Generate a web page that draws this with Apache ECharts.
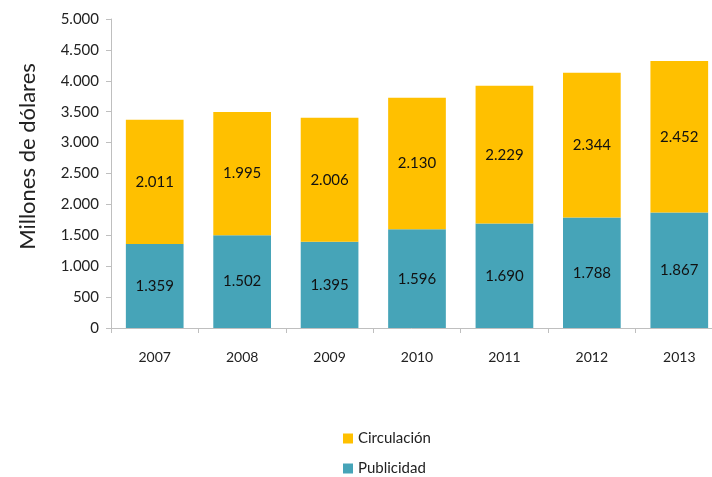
<!DOCTYPE html>
<html><head><meta charset="utf-8">
<script src="https://cdn.jsdelivr.net/npm/echarts@6/dist/echarts.min.js"></script>
<style>html,body{margin:0;padding:0;background:#fff}#c{width:712px;height:477px}</style>
</head><body><div id="c"></div>
<script>
var years = ['2007','2008','2009','2010','2011','2012','2013'];
var publicidad = [1359,1502,1395,1596,1690,1788,1867];
var circulacion = [2011,1995,2006,2130,2229,2344,2452];
var yTicks = {min:0, max:5000, interval:500};
var fmt = function(v){ return String(v).replace(/\B(?=(\d{3})+(?!\d))/g,'.'); };
var FONT = 'Lato';
var legendBase = {itemWidth:10, itemHeight:10, icon:'rect', left:338,
  textStyle:{fontFamily:FONT, fontSize:15, color:'#222'}};
var chart = echarts.init(document.getElementById('c'));
chart.setOption({
  animation:false,
  textStyle:{fontFamily:FONT},
  grid:{left:111, top:19, right:-11, bottom:149, containLabel:false, outerBoundsMode:'none'},
  legend:[
    Object.assign({}, legendBase, {top:426, data:['Circulación']}),
    Object.assign({}, legendBase, {top:456, data:['Publicidad']})
  ],
  xAxis:{
    type:'category', data:years,
    axisLine:{lineStyle:{color:'#bfbfbf'}},
    axisTick:{show:true, length:5, lineStyle:{color:'#bfbfbf'}},
    axisLabel:{fontFamily:FONT, fontSize:14, color:'#222', margin:22}
  },
  yAxis:{
    type:'value', min:yTicks.min, max:yTicks.max, interval:yTicks.interval,
    name:'Millones de dólares', nameLocation:'middle', nameGap:72, nameRotate:90,
    nameTextStyle:{fontFamily:FONT, fontSize:22, color:'#222', padding:[0,0,0,34]},
    axisLine:{show:true, lineStyle:{color:'#bfbfbf'}},
    axisTick:{show:true, length:5, lineStyle:{color:'#bfbfbf'}},
    splitLine:{show:false},
    axisLabel:{fontFamily:FONT, fontSize:15, color:'#222', margin:12, formatter:fmt}
  },
  series:[
    {name:'Publicidad', type:'bar', stack:'t', data:publicidad, barCategoryGap:'34%',
     itemStyle:{color:'#46A4B8'},
     label:{show:true, position:'inside', color:'#111', fontFamily:FONT, fontSize:15, formatter:function(p){return fmt(p.value);}}},
    {name:'Circulación', type:'bar', stack:'t', data:circulacion, barCategoryGap:'34%',
     itemStyle:{color:'#FFC000'},
     label:{show:true, position:'inside', color:'#111', fontFamily:FONT, fontSize:15, formatter:function(p){return fmt(p.value);}}}
  ]
});
</script></body></html>
